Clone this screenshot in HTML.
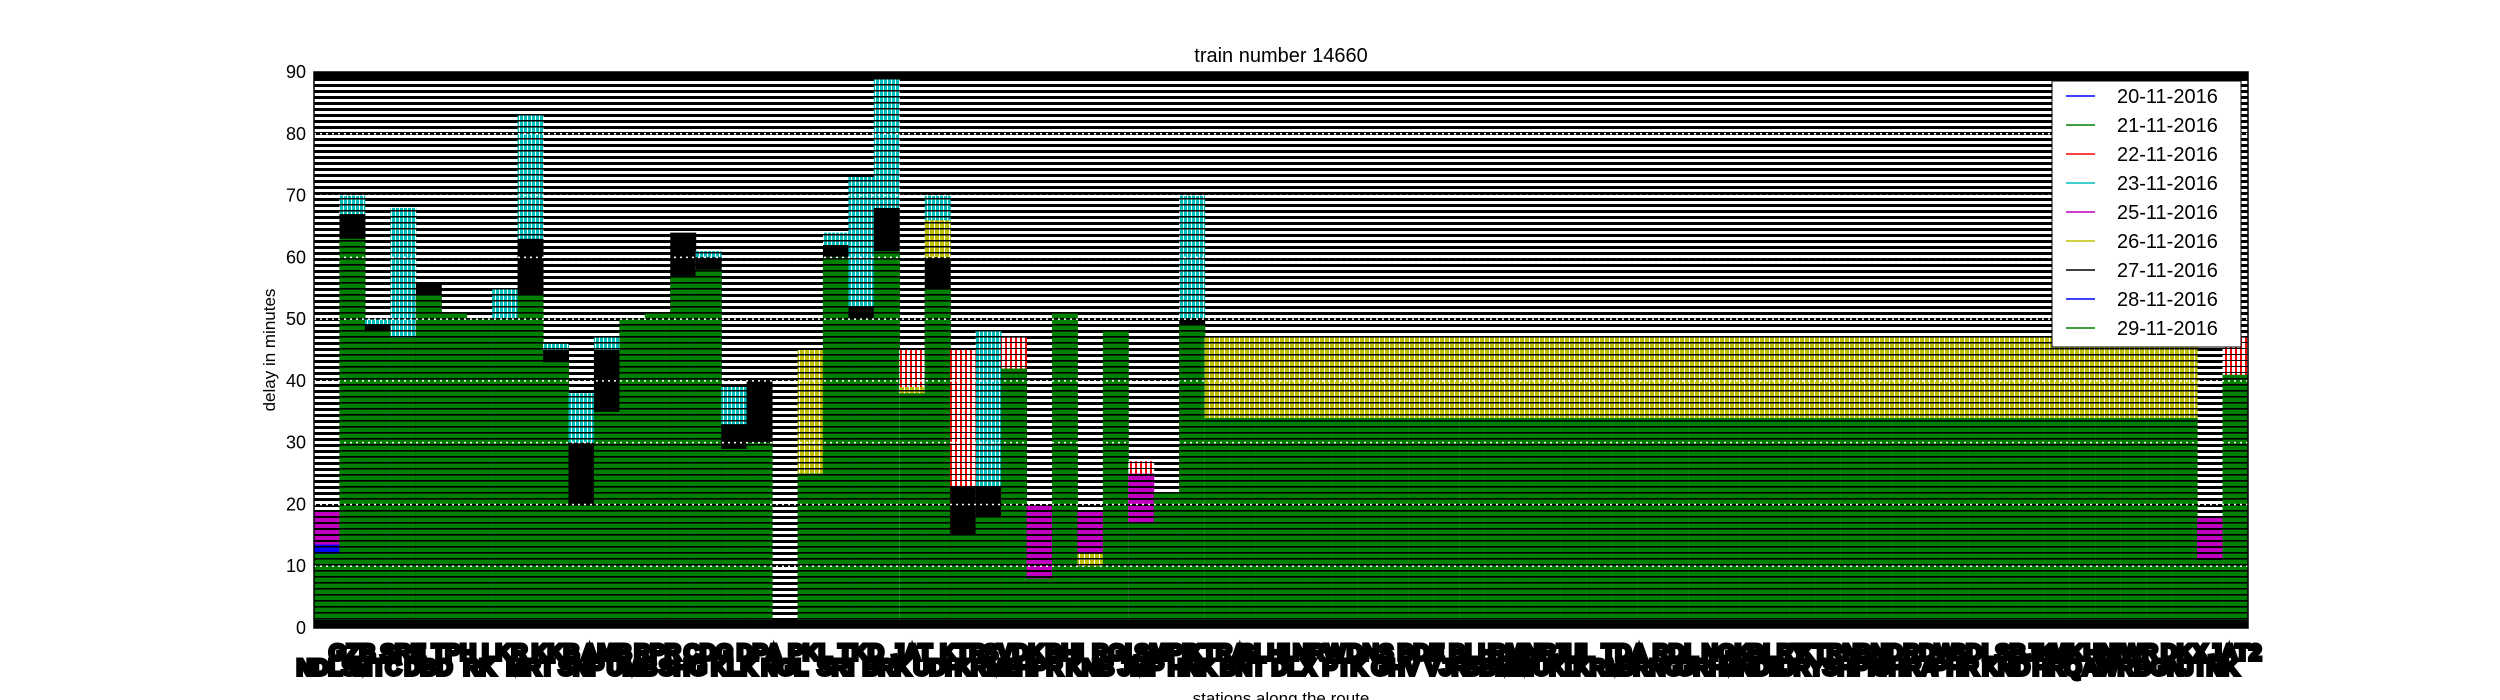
<!DOCTYPE html>
<html><head><meta charset="utf-8"><style>
html,body{margin:0;padding:0;background:#fff;width:2500px;height:700px;overflow:hidden}
svg{display:block;font-family:"Liberation Sans","DejaVu Sans",sans-serif}
</style></head><body>
<svg id="chart" width="2500" height="700">
<defs>
<pattern id="bgp" patternUnits="userSpaceOnUse" width="10" height="6"><rect width="10" height="6" fill="#fff"/><rect y="0" width="10" height="3" fill="#000"/></pattern>
<pattern id="gp" patternUnits="userSpaceOnUse" width="10" height="6"><rect width="10" height="6" fill="#008000"/><rect y="0" width="10" height="1.6" fill="#000"/></pattern>
<pattern id="cp" patternUnits="userSpaceOnUse" width="4" height="6"><rect width="4" height="6" fill="#00bfbf"/><rect x="3" width="1" height="6" fill="#fff"/><rect width="4" height="1.5" fill="#000"/></pattern>
<pattern id="yp" patternUnits="userSpaceOnUse" width="5" height="6"><rect width="5" height="6" fill="#bfbf00"/><rect x="4" width="1" height="6" fill="#fff"/><rect width="5" height="1.5" fill="#000"/></pattern>
<pattern id="rp" patternUnits="userSpaceOnUse" width="5" height="6"><rect width="5" height="6" fill="#fff"/><rect x="0" width="2" height="6" fill="#ff0000"/><rect width="5" height="1" fill="#000"/></pattern>
<pattern id="mp" patternUnits="userSpaceOnUse" width="10" height="6"><rect width="10" height="6" fill="#bf00bf"/><rect width="10" height="2" fill="#000"/></pattern>
<pattern id="bp" patternUnits="userSpaceOnUse" width="10" height="6"><rect width="10" height="6" fill="#0000ff"/><rect width="10" height="1.5" fill="#000"/></pattern>
</defs>
<g id="plot"></g>
</svg>
<script>
const yTicks=[0,10,20,30,40,50,60,70,80,90];
const g29=[12,63,48,47,54,51,50,50,54,43,20,35,50,51,57,58,29,30,1,25,60,50,61,38,55,15,18,42,8,51,10,48,17,22,49,34,34,34,34,34,34,34,34,34,34,34,34,34,34,34,34,34,34,34,34,34,34,34,34,34,34,34,34,34,34,34,34,34,34,34,34,34,34,34,11,41];
const k27=[0,67,49,0,56,0,0,0,63,45,30,45,0,0,64,60,33,40,0,0,62,52,68,0,60,23,23,0,0,0,0,0,0,0,50];
const c23=[0,70,50,68,0,0,0,55,83,46,38,47,0,0,0,61,39,0,0,0,64,73,89,0,70,0,48,0,0,0,0,0,0,0,70];
const y26=[0,0,0,0,0,0,0,0,0,0,0,0,0,0,0,0,0,0,0,45,0,0,0,39,66,0,0,0,0,0,12,0,0,0,0,47,47,47,47,47,47,47,47,47,47,47,47,47,47,47,47,47,47,47,47,47,47,47,47,47,47,47,47,47,47,47,47,47,47,47,47,47,47,47,0,0];
const r22=[0,0,0,0,0,0,0,0,0,0,0,0,0,0,0,0,0,0,0,0,0,0,0,45,0,45,0,47,0,0,0,0,27,0,0];
r22[75]=47;
const m25=[19,0,0,0,0,0,0,0,0,0,0,0,0,0,0,0,0,0,0,0,0,0,0,0,0,0,0,0,20,0,19,0,25,0,0];
m25[74]=18;
const b28=[13.5];
const legendLabels=["20-11-2016","21-11-2016","22-11-2016","23-11-2016","25-11-2016","26-11-2016","27-11-2016","28-11-2016","29-11-2016"];
const legendColors=["#0000ff","#008000","#ff0000","#00bfbf","#bf00bf","#bfbf00","#000000","#0000ff","#008000"];
const stationCodes=["NDLS","GZB","MTC","SRE","DBD","TPH","RK","LKR","MRT","KKB","SNP","AMB","UMB","RPR","SHG","CDG","KLK","DPA","NGL","PKL","SRI","TKD","BRK","JAT","UDH","KTR","KRMB","SVDK","HPR","BHI","KNB","RGL","JMP","SMPR","HNK","KTRA","BNT","SLHL","DLX","NRW","PTK","DNS","GHV","BDE","VJR","BLH","SBMK","RMNR","MUKD","JUL","KRM","TDA","BRNG","RDL","GRH","NGK","MNDE","BLRY","JRY","KTRN","SHPR","BND","GHRA","RDW","PHR","SDLS","KND","BJK","HRQ","MKHN","AWR","JWR","BGN","DKX","JTNK","JAT2"];

const NS="http://www.w3.org/2000/svg";
const svg=document.getElementById('chart');
const L=314,R=2248,T=72,B=628,N=76,YMAX=90;
const bw=(R-L)/N;
const xs=i=>L+i*bw;
const ys=v=>B-(v/YMAX)*(B-T);
function mk(tag,attrs,parent){const e=document.createElementNS(NS,tag);for(const k in attrs)e.setAttribute(k,attrs[k]);(parent||svg).appendChild(e);return e;}

// background
let bg=mk('rect',{x:L,y:T,width:R-L,height:B-T,fill:'url(#bgp)'});


mk('rect',{x:L,y:T,width:R-L,height:8,fill:'#000'});

const series=[
 {arr:g29,fill:'url(#gp)',name:'green'},
 {arr:k27,fill:'#000',name:'black'},
 {arr:c23,fill:'url(#cp)',name:'cyan'},
 {arr:y26,fill:'url(#yp)',name:'yellow'},
 {arr:r22,fill:'url(#rp)',name:'red'},
 {arr:m25,fill:'url(#mp)',name:'magenta'},
 {arr:b28,fill:'url(#bp)',name:'blue'}
];
for(let i=0;i<N;i++){
  const items=[];
  series.forEach(s=>{const v=s.arr[i];if(v)items.push({v:v,s:s});});
  items.sort((a,b)=>b.v-a.v);
  items.forEach(it=>{
    const r=mk('rect',{x:xs(i),y:ys(it.v),width:bw+0.5,height:ys(0)-ys(it.v),fill:it.s.fill});
    
    
  });
}
mk('rect',{x:L,y:B-8,width:R-L,height:8,fill:'#000'});
// gridlines
yTicks.forEach(t=>{
  if(t>0&&t<90){const l=mk('line',{x1:L,x2:R,y1:ys(t),y2:ys(t),stroke:'#fff','stroke-width':1.5,'stroke-dasharray':'2,4'});
  
  }
  const tx=mk('text',{x:L-8,y:ys(t)+6,'text-anchor':'end','font-size':18,fill:'#000'});
  tx.textContent=t;
  
  
});
mk('rect',{x:L,y:T,width:R-L,height:B-T,fill:'none',stroke:'#000','stroke-width':1.5});
// station labels
stationCodes.forEach((c,i)=>{
  const t=mk('text',{x:xs(i)+bw/2,y:(i%2?660:675),'text-anchor':'middle','font-size':22,'font-weight':'bold',fill:'#000',stroke:'#000','stroke-width':4});
  t.textContent=c;
  
  
});
// titles
let tt=mk('text',{x:(L+R)/2,y:62,'text-anchor':'middle','font-size':20});
tt.textContent='train number 14660';


let yl=mk('text',{x:275,y:(T+B)/2,'text-anchor':'middle','font-size':17,transform:'rotate(-90 275 '+((T+B)/2)+')'});
yl.textContent='delay in minutes';


let xl=mk('text',{x:1281,y:704,'text-anchor':'middle','font-size':17});
xl.textContent='stations along the route';


// legend
let lg=mk('rect',{x:2052,y:81,width:189,height:266,fill:'#fff',stroke:'#000','stroke-width':1});


legendLabels.forEach((lab,i)=>{
  const y=96+i*29;
  const ln=mk('line',{x1:2066,x2:2095,y1:y,y2:y,stroke:legendColors[i],'stroke-width':1.5});
  
  
  const t=mk('text',{x:2117,y:y+7,'font-size':20});
  t.textContent=lab;
  
  
});
</script>
</body></html>
